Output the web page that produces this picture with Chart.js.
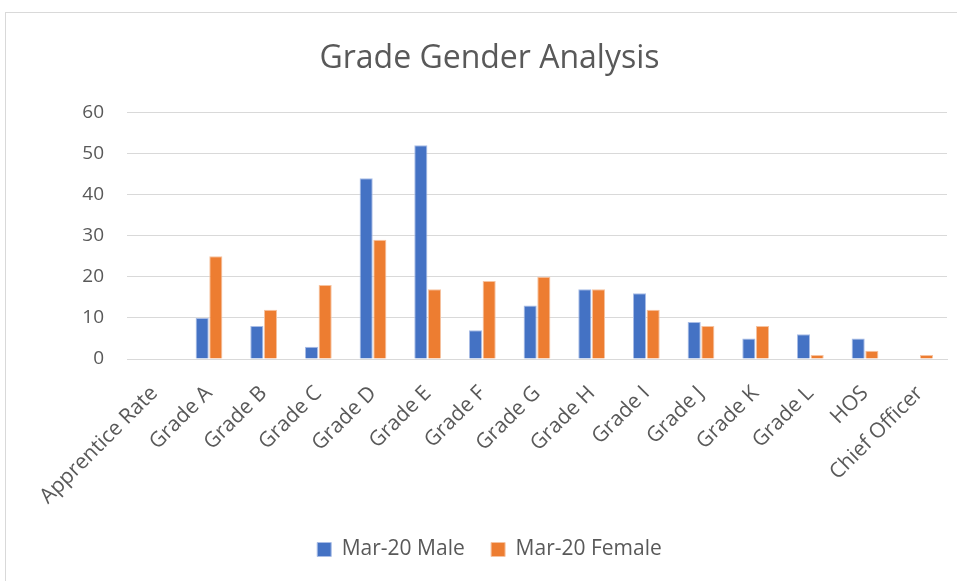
<!DOCTYPE html>
<html>
<head>
<meta charset="utf-8">
<script src="https://cdn.jsdelivr.net/npm/chart.js@4.4.1/dist/chart.umd.min.js"></script>
<style>
html,body{margin:0;padding:0;background:#fff;}
#wrap{position:absolute;left:0;top:0;width:957px;height:581px;}
</style>
</head>
<body>
<div id="wrap"><canvas id="c" width="957" height="581"></canvas></div>
<script>
const categories = ["Apprentice Rate","Grade A","Grade B","Grade C","Grade D","Grade E","Grade F","Grade G","Grade H","Grade I","Grade J","Grade K","Grade L","HOS","Chief Officer"];
const maleValues = [0,10,8,3,44,52,7,13,17,16,9,5,6,5,0];
const femaleValues = [0,25,12,18,29,17,19,20,17,12,8,8,1,2,1];
const seriesNames = ["Mar-20 Male","Mar-20 Female"];
const yTicks = [0,10,20,30,40,50,60];

const FONT = "'Open Sans', 'Liberation Sans', sans-serif";
const borderPlugin = {
  id:'frame',
  beforeDraw(chart){
    const ctx = chart.ctx;
    ctx.save();
    ctx.fillStyle = '#fff';
    ctx.fillRect(0,0,chart.width,chart.height);
    ctx.strokeStyle = '#d9d9d9';
    ctx.lineWidth = 1;
    ctx.strokeRect(5.5,12.5,chart.width+10,chart.height);
    ctx.restore();
  }
};

const chart = new Chart(document.getElementById('c'), {
  type:'bar',
  data:{
    labels: categories,
    datasets:[
      {label: seriesNames[0], data: maleValues, backgroundColor:'#4472c4', borderColor:'#a9bde6', borderWidth:1, categoryPercentage:0.5, barPercentage:0.96},
      {label: seriesNames[1], data: femaleValues, backgroundColor:'#ed7d31', borderColor:'#f6c3a0', borderWidth:1, categoryPercentage:0.5, barPercentage:0.96}
    ]
  },
  options:{
    responsive:false,
    animation:false,
    devicePixelRatio:1,
    layout:{padding:{left:32,right:10,top:40,bottom:11}},
    plugins:{
      title:{display:true, text:'Grade Gender Analysis', color:'#595959', font:{family:FONT, size:32, weight:'normal'}, padding:{top:0,bottom:34}},
      legend:{position:'bottom', labels:{color:'#595959', font:{family:FONT, size:21}, boxWidth:14, boxHeight:14, padding:10,
        generateLabels(ch){
          const items = Chart.defaults.plugins.legend.labels.generateLabels(ch);
          items.forEach((it,i)=>{ if(i < items.length-1) it.text = it.text + '   '; });
          return items;
        }}},
      tooltip:{enabled:false}
    },
    scales:{
      x:{
        grid:{display:false, drawTicks:false},
        border:{display:true, color:'#d9d9d9'},
        ticks:{color:'#595959', font:{family:FONT, size:21}, maxRotation:45, minRotation:45, padding:22, labelOffset:0, autoSkip:false},
        afterFit(s){ s.height = 170; s.paddingRight = 0; }
      },
      y:{
        min:0, max:60,
        afterBuildTicks(s){ s.ticks = yTicks.map(v=>({value:v})); },
        grid:{color:'#d9d9d9', drawTicks:false},
        border:{display:false},
        ticks:{color:'#595959', font:{family:FONT, size:19}, padding:23},
        afterFit(s){ s.width = 95; }
      }
    }
  },
  plugins:[borderPlugin]
});
</script>
</body>
</html>
